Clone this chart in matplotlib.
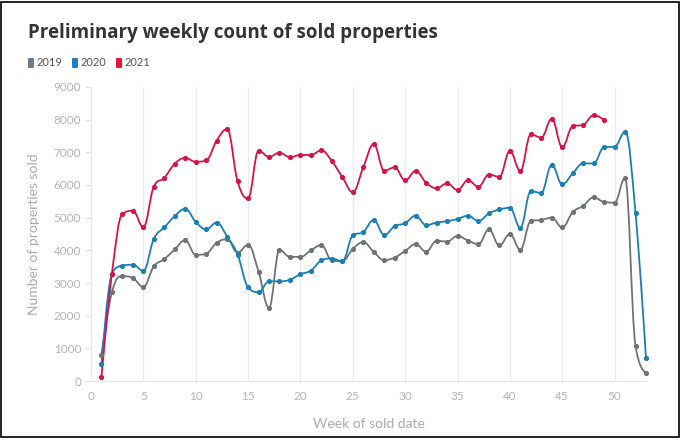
import numpy as np
import matplotlib.pyplot as plt
from matplotlib.path import Path
from matplotlib.patches import PathPatch, Rectangle, FancyBboxPatch

# data
weeks_2019 = list(range(1, 54))
sold_2019 = [800, 2720, 3210, 3150, 2880, 3510, 3730, 4030, 4310, 3860,
             3900, 4230, 4340, 3930, 4170, 3350, 2240, 4010, 3800, 3800,
             4000, 4160, 3690, 3670, 4040, 4250, 3950, 3700, 3780, 3980,
             4190, 3960, 4290, 4270, 4440, 4300, 4190, 4640, 4150, 4500,
             4020, 4900, 4930, 5000, 4700, 5170, 5360, 5620, 5480, 5460,
             6210, 1070, 260]

weeks_2020 = list(range(1, 54))
sold_2020 = [510, 3290, 3530, 3560, 3370, 4350, 4700, 5050, 5270, 4870,
             4640, 4850, 4420, 3870, 2870, 2720, 3050, 3050, 3100, 3270,
             3380, 3690, 3750, 3660, 4460, 4560, 4930, 4470, 4740, 4830,
             5060, 4770, 4850, 4890, 4960, 5060, 4900, 5130, 5250, 5300,
             4690, 5810, 5760, 6620, 6020, 6360, 6660, 6660, 7160, 7170,
             7620, 5140, 690]

weeks_2021 = list(range(1, 50))
sold_2021 = [130, 3290, 5110, 5210, 4710, 5950, 6220, 6650, 6830, 6710,
             6750, 7360, 7710, 6110, 5590, 7050, 6860, 6990, 6850, 6920,
             6920, 7060, 6730, 6245, 5780, 6540, 7250, 6440, 6540, 6140,
             6430, 6070, 5900, 6050, 5850, 6140, 5950, 6320, 6250, 7040,
             6430, 7550, 7450, 8030, 7160, 7800, 7840, 8140, 7990]

series = [('2019', weeks_2019, sold_2019, '#6f7377', '#6c7a89'),
          ('2020', weeks_2020, sold_2020, '#1a7fb5', '#1f7fc8'),
          ('2021', weeks_2021, sold_2021, '#d5134a', '#e8103c')]

y_ticks = list(range(0, 9001, 1000))
x_ticks = list(range(0, 51, 5))


def spline_path(xs, ys, smoothing=1.5):
    # highcharts-like spline, built as cubic bezier path
    denom = smoothing + 1
    n = len(xs)
    lc = [(xs[i], ys[i]) for i in range(n)]
    rc = [(xs[i], ys[i]) for i in range(n)]
    for i in range(1, n - 1):
        px, py = xs[i], ys[i]
        lx, ly = xs[i - 1], ys[i - 1]
        nx, ny = xs[i + 1], ys[i + 1]
        lcx = (smoothing * px + lx) / denom
        lcy = (smoothing * py + ly) / denom
        rcx = (smoothing * px + nx) / denom
        rcy = (smoothing * py + ny) / denom
        if rcx != lcx:
            corr = (rcy - lcy) * (rcx - px) / (rcx - lcx) + py - rcy
            lcy += corr
            rcy += corr
        if lcy > ly and lcy > py:
            lcy = max(ly, py)
            rcy = 2 * py - lcy
        elif lcy < ly and lcy < py:
            lcy = min(ly, py)
            rcy = 2 * py - lcy
        if rcy > ny and rcy > py:
            rcy = max(ny, py)
            lcy = 2 * py - rcy
        elif rcy < ny and rcy < py:
            rcy = min(ny, py)
            lcy = 2 * py - rcy
        lc[i] = (lcx, lcy)
        rc[i] = (rcx, rcy)
    verts = [(xs[0], ys[0])]
    codes = [Path.MOVETO]
    for i in range(1, n):
        verts += [rc[i - 1], lc[i], (xs[i], ys[i])]
        codes += [Path.CURVE4] * 3
    return Path(verts, codes)


plt.rcParams['font.family'] = ['Lato', 'DejaVu Sans']
fig = plt.figure(figsize=(6.83, 4.41), dpi=100)
W, H = 683, 441
ax = fig.add_axes([91 / W, 1 - 381 / H, (646 - 91) / W, (381 - 87) / H])

for name, xs, ys, lcol, _ in series:
    ax.add_patch(PathPatch(spline_path(xs, ys), facecolor='none',
                           edgecolor=lcol, lw=1.3, zorder=3, clip_on=False))
    ax.plot(xs, ys, 'o', color=lcol, ms=2.7, zorder=4, clip_on=False)

ax.set_xlim(0, 53)
ax.set_ylim(0, 9000)
ax.set_xticks(x_ticks)
ax.set_yticks(y_ticks)
ax.grid(axis='x', color='#ebebeb', lw=1)
ax.set_axisbelow(True)
for s in ['top', 'right']:
    ax.spines[s].set_visible(False)
ax.spines['left'].set_color('#e8e8e8')
ax.spines['bottom'].set_color('#e8e8e8')
ax.tick_params(axis='y', colors='#e3e3e3', labelcolor='#b5b5b5', labelsize=8.5, length=4, pad=3)
ax.tick_params(axis='x', length=0, labelcolor='#b5b5b5', labelsize=8.5, pad=7)
ax.set_xlabel('Week of sold date', color='#ababab', fontsize=10, labelpad=12)
ax.set_ylabel('Number of properties sold', color='#ababab', fontsize=10, labelpad=10)

fig.text(28 / W, 1 - 33 / H, 'Preliminary weekly count of sold properties',
         fontsize=13.5, fontweight='bold', color='#333333', va='center',
         family=['Open Sans', 'DejaVu Sans'])

# legend as coloured rounded boxes with labels
lx = 28
for name, _, _, _, boxcol in series:
    fig.patches.append(FancyBboxPatch((lx / W, 1 - 68 / H), 6 / W, 10 / H,
                                      boxstyle='round,pad=0,rounding_size=0.002',
                                      transform=fig.transFigure, facecolor=boxcol,
                                      edgecolor='none'))
    fig.text((lx + 8.5) / W, 1 - 63 / H, name, fontsize=8, color='#555555', va='center')
    lx += 44

fig.patches.append(Rectangle((1 / W, 4 / H), 678 / W, 435 / H, transform=fig.transFigure,
                             fill=False, edgecolor='black', lw=1.2))

fig.savefig('out.png', dpi=100)
